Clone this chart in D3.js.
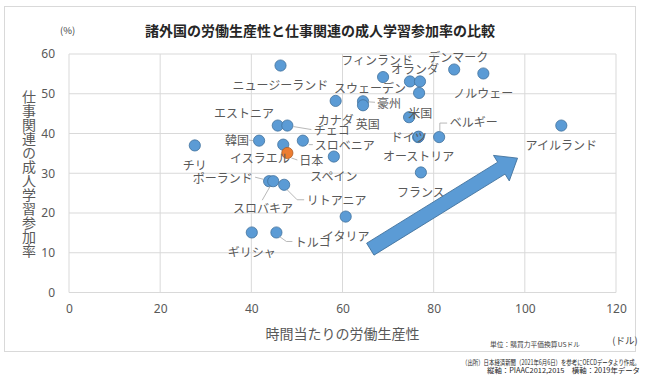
<!DOCTYPE html>
<html>
<head>
<meta charset="utf-8">
<script src="https://cdn.jsdelivr.net/npm/d3@7"></script>
<style>
  body { margin: 0; background: #fff; }
  svg text { font-family: "Noto Sans CJK JP", "Noto Sans", sans-serif; }
</style>
</head>
<body>
<script>
// Countries, labour productivity (USD/hour, 2019) and job-related adult learning rate (%)
var countries = ["ニュージーランド", "カナダ", "スウェーデン", "フィンランド", "オランダ", "デンマーク",
  "ノルウェー", "", "豪州", "英国", "米国", "ドイツ", "オーストリア", "ベルギー", "フランス",
  "アイルランド", "エストニア", "チェコ", "韓国", "チリ", "イスラエル", "日本", "スロベニア",
  "スペイン", "ポーランド", "スロバキア", "リトアニア", "イタリア", "ギリシャ", "トルコ"];
var productivity = [46.4, 58.5, 74.8, 68.9, 77.0, 84.5, 90.9, 76.8, 64.5, 64.5, 74.6, 76.6, 76.7, 81.2, 77.2,
  108.0, 45.8, 47.9, 41.7, 27.6, 47.0, 47.9, 51.3, 58.1, 43.9, 44.8, 47.2, 60.7, 40.1, 45.5];
var participation = [57.1, 48.2, 53.1, 54.2, 53.1, 56.1, 55.1, 50.2, 48.1, 47.1, 44.1, 39.1, 39.2, 39.1, 30.2,
  42.0, 42.0, 42.0, 38.2, 37.0, 37.2, 35.1, 38.2, 34.2, 28.0, 28.0, 27.1, 19.1, 15.1, 15.1];
var highlight = "日本";

var xTicks = [0, 20, 40, 60, 80, 100, 120];
var yTicks = [0, 10, 20, 30, 40, 50, 60];

// Trend arrow: tail and tip in data units
var arrowFrom = [66.1, 10.9];
var arrowTo = [98.4, 33.8];

// Label placement in pixels relative to the marker: [dx, dy, anchor, leader points]
var labelLayout = {
  "スウェーデン": [-40, 5.6, "middle"],
  "フィンランド": [-6, -17.5, "middle"],
  "オランダ": [-5, -13.4, "middle"],
  "デンマーク": [4, -13.3, "middle"],
  "豪州": [14, 1, "start", [[5, 0.5], [12, 1]]],
  "英国": [4.7, 18.7, "middle"],
  "米国": [11.2, -4.6, "middle"],
  "ドイツ": [-9.3, -0.6, "middle"],
  "ベルギー": [10.7, -15.6, "start", [[0.7, -6], [0.7, -14], [8, -14]]],
  "エストニア": [-33.7, -13, "middle"],
  "チェコ": [26.3, 3.6, "start", [[6, 1], [24, 4]]],
  "韓国": [-22, -1, "middle", [[-10, -0.5], [-6, 0]]],
  "イスラエル": [-23.3, 13.3, "middle"],
  "日本": [12, 7, "start", [[4, 5], [10, 7]]],
  "スロベニア": [12, 4, "start", [[6, 4], [10, 4]]],
  "ポーランド": [-16.3, -4, "end", [[-14, -4], [-6, -2]]],
  "スロバキア": [-10.3, 26.4, "middle", [[-3, 5], [-11, 19]]],
  "リトアニア": [22.7, 15, "start", [[3, 5], [13, 15], [20, 15]]],
  "トルコ": [18.3, 9, "start", [[3, 4], [10, 9], [16, 9]]]
};

var width = 650, height = 380;
var plot = {left: 69, right: 616, top: 54, bottom: 292.5};

var svg = d3.select("body").append("svg")
  .attr("width", width)
  .attr("height", height);

// Outer frame
svg.append("rect")
  .attr("x", 4.5).attr("y", 6.5)
  .attr("width", 631).attr("height", 345)
  .attr("fill", "none")
  .attr("stroke", "#d9d9d9");

var x = d3.scaleLinear().domain([0, 120]).range([plot.left, plot.right]);
var y = d3.scaleLinear().domain([0, 60]).range([plot.bottom, plot.top]);

// Gridlines
var grid = svg.append("g").attr("class", "grid");
grid.selectAll("line.v")
  .data(xTicks)
  .enter().append("line")
  .attr("x1", d => x(d)).attr("x2", d => x(d))
  .attr("y1", plot.top).attr("y2", plot.bottom)
  .attr("stroke", "#d9d9d9");
grid.selectAll("line.h")
  .data(yTicks)
  .enter().append("line")
  .attr("x1", plot.left).attr("x2", plot.right)
  .attr("y1", d => y(d)).attr("y2", d => y(d))
  .attr("stroke", "#d9d9d9");

// Axes (labels only, no tick marks)
var xAxis = svg.append("g")
  .attr("transform", "translate(0," + plot.bottom + ")")
  .call(d3.axisBottom(x).tickValues(xTicks).tickSize(0).tickPadding(12));
var yAxis = svg.append("g")
  .attr("transform", "translate(" + plot.left + ",0)")
  .call(d3.axisLeft(y).tickValues(yTicks).tickSize(0).tickPadding(14));
[xAxis, yAxis].forEach(function(ax) {
  ax.select(".domain").remove();
  ax.selectAll("text")
    .attr("font-size", 12)
    .attr("fill", "#595959")
    .style("font-family", "'Noto Sans', sans-serif");
});

// Title and axis titles
svg.append("text")
  .text("諸外国の労働生産性と仕事関連の成人学習参加率の比較")
  .attr("x", 320).attr("y", 30)
  .attr("text-anchor", "middle")
  .attr("dominant-baseline", "central")
  .attr("font-size", 14)
  .attr("font-weight", "bold")
  .attr("fill", "#262626");

svg.append("text")
  .text("(%)")
  .attr("x", 60).attr("y", 30)
  .attr("dominant-baseline", "central")
  .attr("font-size", 9.5)
  .attr("fill", "#404040");

svg.append("text")
  .text("仕事関連の成人学習参加率")
  .attr("x", 29).attr("y", (plot.top + plot.bottom) / 2)
  .attr("text-anchor", "middle")
  .attr("font-size", 14)
  .attr("fill", "#595959")
  .style("writing-mode", "vertical-rl")
  .style("text-orientation", "upright");

svg.append("text")
  .text("時間当たりの労働生産性")
  .attr("x", (plot.left + plot.right) / 2).attr("y", 333)
  .attr("text-anchor", "middle")
  .attr("dominant-baseline", "central")
  .attr("font-size", 14)
  .attr("fill", "#595959");

svg.append("text")
  .text("(ドル)")
  .attr("x", 625).attr("y", 340)
  .attr("text-anchor", "middle")
  .attr("dominant-baseline", "central")
  .attr("font-size", 9.5)
  .attr("fill", "#404040");

svg.append("text")
  .text("単位：購買力平価換算USドル")
  .attr("x", 490).attr("y", 343.5)
  .attr("dominant-baseline", "central")
  .attr("font-size", 6.5)
  .attr("textLength", 90)
  .attr("lengthAdjust", "spacingAndGlyphs")
  .attr("fill", "#404040");

// Footnotes
var notes = [
  {text: "（出所）日本経済新聞（2021年6月6日）を参考にOECDデータより作成。", y: 362, w: 178},
  {text: "縦軸：PIAAC2012,2015　横軸：2019年データ", y: 370, w: 153}
];
svg.selectAll("text.note")
  .data(notes)
  .enter().append("text")
  .attr("class", "note")
  .text(d => d.text)
  .attr("x", 640).attr("y", d => d.y)
  .attr("text-anchor", "end")
  .attr("dominant-baseline", "central")
  .attr("font-size", 7)
  .attr("textLength", d => d.w)
  .attr("lengthAdjust", "spacingAndGlyphs")
  .attr("fill", "#262626");

// Points
var data = countries.map((c, i) => ({name: c, px: productivity[i], rate: participation[i]}));

var points = svg.append("g").attr("class", "points");
points.selectAll("circle")
  .data(data)
  .enter().append("circle")
  .attr("cx", d => x(d.px))
  .attr("cy", d => y(d.rate))
  .attr("r", 5.6)
  .attr("fill", d => d.name === highlight ? "#ed7d31" : "#5b9bd5")
  .attr("stroke", d => d.name === highlight ? "#ae5a21" : "#41719c")
  .attr("stroke-width", 0.8);

// Leader lines and labels
var labels = svg.append("g").attr("class", "labels");
data.filter(d => d.name !== "").forEach(function(d) {
  var cx = x(d.px), cy = y(d.rate);
  var lay = labelLayout[d.name] || [0, 19, "middle"];
  if (lay[3]) {
    labels.append("polyline")
      .attr("points", lay[3].map(p => (cx + p[0]) + "," + (cy + p[1])).join(" "))
      .attr("fill", "none")
      .attr("stroke", "#a6a6a6")
      .attr("stroke-width", 0.8);
  }
  labels.append("text")
    .text(d.name)
    .attr("x", cx + lay[0])
    .attr("y", cy + lay[1])
    .attr("text-anchor", lay[2])
    .attr("dominant-baseline", "central")
    .attr("font-size", 12)
    .attr("fill", "#595959");
});

// Trend arrow
var ax0 = x(arrowFrom[0]), ay0 = y(arrowFrom[1]);
var ax1 = x(arrowTo[0]), ay1 = y(arrowTo[1]);
var len = Math.hypot(ax1 - ax0, ay1 - ay0);
var ang = Math.atan2(ay1 - ay0, ax1 - ax0) * 180 / Math.PI;
var shaftW = 7, headW = 15, headL = 19;
var arrowPts = [[0, -shaftW], [len - headL, -shaftW], [len - headL, -headW], [len, 0],
  [len - headL, headW], [len - headL, shaftW], [0, shaftW]];
svg.append("polygon")
  .attr("points", arrowPts.map(p => p.join(",")).join(" "))
  .attr("transform", "translate(" + ax0 + "," + ay0 + ") rotate(" + ang + ")")
  .attr("fill", "#5b9bd5")
  .attr("stroke", "#41719c")
  .attr("stroke-width", 0.8);
</script>
</body>
</html>
